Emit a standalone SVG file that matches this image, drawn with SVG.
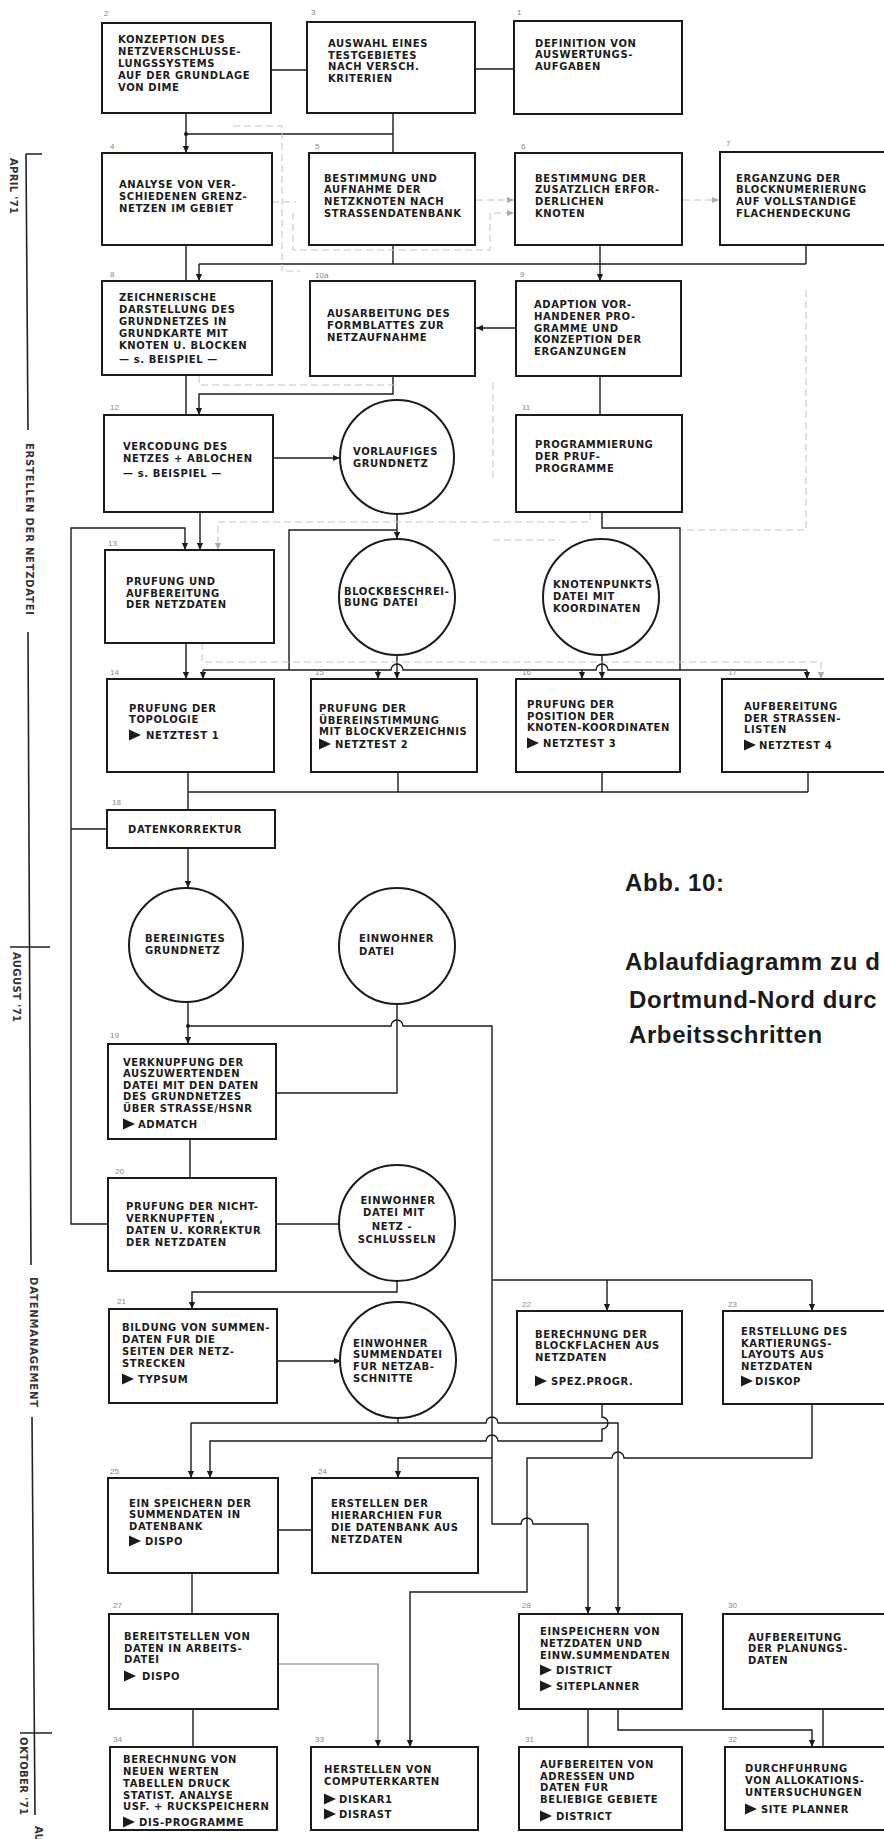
<svg xmlns="http://www.w3.org/2000/svg" width="884" height="1839" viewBox="0 0 884 1839">
<defs>
<style>
.box{fill:#fff;stroke:#1b1b1b;stroke-width:2}
.circ{fill:#fff;stroke:#1b1b1b;stroke-width:2}
.t{font-family:"DejaVu Sans","Liberation Sans",sans-serif;font-weight:bold;font-size:10px;letter-spacing:0.6px;fill:#1b1b1b}
.num{font-family:"Liberation Sans",sans-serif;font-size:8px;fill:#888}
.side{font-family:"DejaVu Sans","Liberation Sans",sans-serif;font-weight:bold;font-size:10px;fill:#333}
.title{font-family:"Liberation Sans",sans-serif;font-weight:bold;font-size:24px;letter-spacing:0.6px;fill:#1b1b1b}
.c{fill:none;stroke:#1b1b1b;stroke-width:1.4}
.ca{fill:none;stroke:#1b1b1b;stroke-width:1.4;marker-end:url(#arr)}
.g{fill:none;stroke:#777;stroke-width:1.2;marker-end:url(#arr)}
.f{fill:none;stroke:#c4c4c4;stroke-width:1;stroke-dasharray:7 4}
.fa{fill:none;stroke:#c4c4c4;stroke-width:1;stroke-dasharray:7 4;marker-end:url(#arrg)}
.tl{fill:none;stroke:#222;stroke-width:1.6}
.dot{fill:#1b1b1b}
</style>
<marker id="arr" viewBox="0 0 8 8" refX="8" refY="4" markerWidth="7" markerHeight="7" markerUnits="userSpaceOnUse" orient="auto"><path d="M0,0.5 L8,4 L0,7.5 z" fill="#1b1b1b"/></marker>
<marker id="arrg" viewBox="0 0 8 8" refX="8" refY="4" markerWidth="7" markerHeight="7" markerUnits="userSpaceOnUse" orient="auto"><path d="M0,0.5 L8,4 L0,7.5 z" fill="#aaa"/></marker>
<path id="tri" d="M0,-5.5 L12,0 L0,5.5 z" fill="#1b1b1b"/>
</defs>
<rect width="884" height="1839" fill="#fff"/>

<g id="timeline">
<path class="tl" d="M26,154 L28,430 M26,154 H42 M28,632 L31,1265 M10,947 H50 M32,1417 L35,1815 M20,1733 H52"/>
<text class="side" transform="translate(10,158) rotate(90)" textLength="56" lengthAdjust="spacing">APRIL '71</text>
<text class="side" transform="translate(26,443) rotate(90)" textLength="172" lengthAdjust="spacing">ERSTELLEN DER NETZDATEI</text>
<text class="side" transform="translate(13,952) rotate(90)" textLength="70" lengthAdjust="spacing">AUGUST '71</text>
<text class="side" transform="translate(30,1277) rotate(90)" textLength="130" lengthAdjust="spacing">DATENMANAGEMENT</text>
<text class="side" transform="translate(20,1737) rotate(90)" textLength="78" lengthAdjust="spacing">OKTOBER '71</text>
<text class="side" transform="translate(35,1826) rotate(90)">AU</text>
</g>

<g id="title">
<text class="title" x="625" y="891">Abb. 10:</text>
<text class="title" x="625" y="970">Ablaufdiagramm zu d</text>
<text class="title" x="629" y="1008">Dortmund-Nord durc</text>
<text class="title" x="629" y="1043">Arbeitsschritten</text>
</g>

<g id="connectors">
<path class="c" d="M271,70 H307"/>
<path class="c" d="M475,69 H514"/>
<path class="ca" d="M186,113 V153"/>
<circle class="dot" cx="186" cy="134" r="2"/>
<path class="c" d="M186,134 H393"/>
<path class="c" d="M393,113 V153"/>
<path class="c" d="M186,245 V281"/>
<path class="c" d="M199,264 H806"/>
<path class="ca" d="M199,264 V281"/>
<path class="c" d="M393,245 V264"/>
<path class="c" d="M600,245 V264"/>
<path class="ca" d="M600,264 V281"/>
<path class="c" d="M806,245 V264"/>
<path class="ca" d="M516,328 H476"/>
<path class="c" d="M600,376 V415"/>
<path class="c" d="M186,375 V415"/>
<path class="ca" d="M393,376 V394 H199 V415"/>
<path class="ca" d="M273,458 H340"/>
<path class="ca" d="M200,512 V550"/>
<path class="ca" d="M108,1224 H71 V528 H185 V550"/>
<path class="c" d="M107,829 H71"/>
<path class="ca" d="M397,514 V539"/>
<path class="c" d="M397,530 H289 V670"/>
<path class="c" d="M602,512 V528 H680 V670"/>
<path class="c" d="M203,670 H391 a6,6 0 0 1 12,0 H596 a6,6 0 0 1 12,0 H807"/>
<path class="ca" d="M203,670 V679"/>
<path class="ca" d="M378,670 V679"/>
<path class="ca" d="M582,670 V679"/>
<path class="ca" d="M807,670 V679"/>
<path class="ca" d="M397,655 V679"/>
<path class="ca" d="M602,655 V679"/>
<path class="ca" d="M186,643 V679"/>
<path class="c" d="M188,772 V810"/>
<path class="c" d="M188,792 H808"/>
<path class="c" d="M398,772 V792"/>
<path class="c" d="M602,772 V792"/>
<path class="c" d="M808,772 V792"/>
<path class="ca" d="M188,848 V888"/>
<path class="ca" d="M188,1002 V1044"/>
<circle class="dot" cx="188" cy="1026" r="2"/>
<path class="ca" d="M188,1026 H391 a6,6 0 0 1 12,0 H492 V1524 H521 a6,6 0 0 1 12,0 H588 V1614"/>
<path class="c" d="M492,1280 H812"/>
<path class="ca" d="M812,1280 V1311"/>
<path class="ca" d="M607,1280 V1311"/>
<path class="ca" d="M492,1458 H398 V1478"/>
<path class="c" d="M397,1004 V1093 H276"/>
<path class="c" d="M190,1139 V1178"/>
<path class="c" d="M276,1224 H339"/>
<path class="ca" d="M397,1281 V1292 H192 V1309"/>
<path class="ca" d="M277,1361 H341"/>
<path class="c" d="M398,1418 V1423"/>
<path class="ca" d="M191,1423 H486 a6,6 0 0 1 12,0 H618 V1614"/>
<path class="ca" d="M191,1423 V1478"/>
<path class="ca" d="M602,1404 V1417 a6,6 0 0 1 0,12 V1441 H498 a6,6 0 0 0 -12,0 H210 V1478"/>
<path class="ca" d="M812,1404 V1458 H624 a6,6 0 0 0 -12,0 H527 V1592 H410 V1747"/>
<path class="c" d="M192,1573 V1614"/>
<path class="c" d="M278,1530 H312"/>
<path class="g" d="M278,1664 H378 V1747"/>
<path class="c" d="M193,1709 V1747"/>
<path class="c" d="M588,1709 V1747"/>
<path class="ca" d="M618,1709 V1730 H812 V1747"/>
<path class="c" d="M823,1709 V1747"/>
<path class="f" d="M233,126 H282 V271 H300"/>
<path class="f" d="M272,202 H296"/>
<path class="fa" d="M293,213 V250 H490 V213 H514"/>
<path class="fa" d="M476,200 H514"/>
<path class="fa" d="M683,200 H719"/>
<path class="f" d="M199,376 V385 H395"/>
<path class="f" d="M806,290 V530 H681"/>
<path class="fa" d="M590,513 V522 H218 V550"/>
<path class="f" d="M493,383 V482"/>
<path class="f" d="M493,540 H560"/>
<path class="fa" d="M202,643 V662 H821 V679"/>
</g>

<g id="numbers" class="num">
<text x="104" y="16">2</text><text x="311" y="15">3</text><text x="517" y="15">1</text>
<text x="110" y="149">4</text><text x="315" y="149">5</text><text x="521" y="149">6</text><text x="726" y="146">7</text>
<text x="110" y="277">8</text><text x="315" y="278">10a</text><text x="520" y="277">9</text>
<text x="110" y="410">12</text><text x="522" y="410">11</text><text x="108" y="546">13</text>
<text x="110" y="675">14</text><text x="315" y="675">15</text><text x="522" y="675">16</text><text x="728" y="675">17</text>
<text x="112" y="805">18</text><text x="110" y="1038">19</text><text x="115" y="1174">20</text><text x="117" y="1304">21</text>
<text x="522" y="1307">22</text><text x="728" y="1307">23</text><text x="110" y="1474">25</text><text x="318" y="1474">24</text>
<text x="113" y="1608">27</text><text x="522" y="1608">28</text><text x="728" y="1608">30</text>
<text x="113" y="1742">34</text><text x="315" y="1742">33</text><text x="525" y="1742">31</text><text x="728" y="1742">32</text>
</g>

<g id="n2"><rect class="box" x="102" y="23" width="169" height="90"/>
<text class="t"><tspan x="118" y="43">KONZEPTION DES</tspan><tspan x="118" y="55">NETZVERSCHLUSSE-</tspan><tspan x="118" y="67">LUNGSSYSTEMS</tspan><tspan x="118" y="79">AUF DER GRUNDLAGE</tspan><tspan x="118" y="91">VON DIME</tspan></text></g>
<g id="n3"><rect class="box" x="307" y="22" width="168" height="91"/>
<text class="t"><tspan x="328" y="47">AUSWAHL EINES</tspan><tspan x="328" y="59">TESTGEBIETES</tspan><tspan x="328" y="70">NACH VERSCH.</tspan><tspan x="328" y="82">KRITERIEN</tspan></text></g>
<g id="n1"><rect class="box" x="514" y="21" width="168" height="93"/>
<text class="t"><tspan x="535" y="47">DEFINITION VON</tspan><tspan x="535" y="58">AUSWERTUNGS-</tspan><tspan x="535" y="70">AUFGABEN</tspan></text></g>

<g id="n4"><rect class="box" x="102" y="153" width="170" height="92"/>
<text class="t"><tspan x="119" y="188">ANALYSE VON VER-</tspan><tspan x="119" y="200">SCHIEDENEN GRENZ-</tspan><tspan x="119" y="212">NETZEN IM GEBIET</tspan></text></g>
<g id="n5"><rect class="box" x="309" y="153" width="166" height="92"/>
<text class="t"><tspan x="324" y="182">BESTIMMUNG UND</tspan><tspan x="324" y="193">AUFNAHME DER</tspan><tspan x="324" y="205">NETZKNOTEN NACH</tspan><tspan x="324" y="217">STRASSENDATENBANK</tspan></text></g>
<g id="n6"><rect class="box" x="515" y="153" width="167" height="92"/>
<text class="t"><tspan x="535" y="182">BESTIMMUNG DER</tspan><tspan x="535" y="193">ZUSATZLICH ERFOR-</tspan><tspan x="535" y="205">DERLICHEN</tspan><tspan x="535" y="217">KNOTEN</tspan></text></g>
<g id="n7"><rect class="box" x="720" y="152" width="180" height="93"/>
<text class="t"><tspan x="736" y="182">ERGANZUNG DER</tspan><tspan x="736" y="193">BLOCKNUMERIERUNG</tspan><tspan x="736" y="205">AUF VOLLSTANDIGE</tspan><tspan x="736" y="217">FLACHENDECKUNG</tspan></text></g>

<g id="n8"><rect class="box" x="102" y="281" width="170" height="94"/>
<text class="t"><tspan x="119" y="301">ZEICHNERISCHE</tspan><tspan x="119" y="313">DARSTELLUNG DES</tspan><tspan x="119" y="325">GRUNDNETZES IN</tspan><tspan x="119" y="337">GRUNDKARTE MIT</tspan><tspan x="119" y="349">KNOTEN U. BLOCKEN</tspan><tspan x="119" y="363">— s. BEISPIEL —</tspan></text></g>
<g id="n10"><rect class="box" x="310" y="281" width="165" height="95"/>
<text class="t"><tspan x="327" y="317">AUSARBEITUNG DES</tspan><tspan x="327" y="329">FORMBLATTES ZUR</tspan><tspan x="327" y="341">NETZAUFNAHME</tspan></text></g>
<g id="n9"><rect class="box" x="516" y="281" width="165" height="95"/>
<text class="t"><tspan x="534" y="308">ADAPTION VOR-</tspan><tspan x="534" y="320">HANDENER PRO-</tspan><tspan x="534" y="332">GRAMME UND</tspan><tspan x="534" y="343">KONZEPTION DER</tspan><tspan x="534" y="355">ERGANZUNGEN</tspan></text></g>

<g id="n12"><rect class="box" x="104" y="415" width="169" height="97"/>
<text class="t"><tspan x="123" y="450">VERCODUNG DES</tspan><tspan x="123" y="462">NETZES + ABLOCHEN</tspan><tspan x="123" y="477">— s. BEISPIEL —</tspan></text></g>
<g id="c_vorl"><circle class="circ" cx="397" cy="457" r="57"/>
<text class="t"><tspan x="353" y="455">VORLAUFIGES</tspan><tspan x="353" y="467">GRUNDNETZ</tspan></text></g>
<g id="n11"><rect class="box" x="516" y="415" width="166" height="97"/>
<text class="t"><tspan x="535" y="448">PROGRAMMIERUNG</tspan><tspan x="535" y="460">DER PRUF-</tspan><tspan x="535" y="472">PROGRAMME</tspan></text></g>

<g id="n13"><rect class="box" x="105" y="550" width="169" height="93"/>
<text class="t"><tspan x="126" y="585">PRUFUNG UND</tspan><tspan x="126" y="597">AUFBEREITUNG</tspan><tspan x="126" y="608">DER NETZDATEN</tspan></text></g>
<g id="c_block"><circle class="circ" cx="397" cy="597" r="58"/>
<text class="t"><tspan x="344" y="595">BLOCKBESCHREI-</tspan><tspan x="344" y="606">BUNG DATEI</tspan></text></g>
<g id="c_knot"><circle class="circ" cx="601" cy="597" r="58"/>
<text class="t"><tspan x="553" y="588">KNOTENPUNKTS</tspan><tspan x="553" y="600">DATEI MIT</tspan><tspan x="553" y="612">KOORDINATEN</tspan></text></g>

<g id="n14"><rect class="box" x="107" y="679" width="167" height="93"/>
<text class="t"><tspan x="129" y="712">PRUFUNG DER</tspan><tspan x="129" y="723">TOPOLOGIE</tspan><tspan x="146" y="739">NETZTEST 1</tspan></text>
<use href="#tri" x="129" y="735"/></g>
<g id="n15"><rect class="box" x="311" y="679" width="166" height="93"/>
<text class="t"><tspan x="319" y="712">PRUFUNG DER</tspan><tspan x="319" y="724">ÜBEREINSTIMMUNG</tspan><tspan x="319" y="735">MIT BLOCKVERZEICHNIS</tspan><tspan x="335" y="748">NETZTEST 2</tspan></text>
<use href="#tri" x="319" y="744"/></g>
<g id="n16"><rect class="box" x="516" y="679" width="164" height="93"/>
<text class="t"><tspan x="527" y="708">PRUFUNG DER</tspan><tspan x="527" y="720">POSITION DER</tspan><tspan x="527" y="731">KNOTEN-KOORDINATEN</tspan><tspan x="543" y="747">NETZTEST 3</tspan></text>
<use href="#tri" x="527" y="743"/></g>
<g id="n17"><rect class="box" x="722" y="679" width="178" height="93"/>
<text class="t"><tspan x="744" y="710">AUFBEREITUNG</tspan><tspan x="744" y="722">DER STRASSEN-</tspan><tspan x="744" y="733">LISTEN</tspan><tspan x="759" y="749">NETZTEST 4</tspan></text>
<use href="#tri" x="744" y="745"/></g>

<g id="n18"><rect class="box" x="107" y="810" width="168" height="38"/>
<text class="t"><tspan x="128" y="833">DATENKORREKTUR</tspan></text></g>

<g id="c_ber"><circle class="circ" cx="186" cy="945" r="57"/>
<text class="t"><tspan x="145" y="942">BEREINIGTES</tspan><tspan x="145" y="954">GRUNDNETZ</tspan></text></g>
<g id="c_einw"><circle class="circ" cx="397" cy="946" r="58"/>
<text class="t"><tspan x="359" y="942">EINWOHNER</tspan><tspan x="359" y="955">DATEI</tspan></text></g>

<g id="n19"><rect class="box" x="108" y="1044" width="168" height="95"/>
<text class="t"><tspan x="123" y="1066">VERKNUPFUNG DER</tspan><tspan x="123" y="1077">AUSZUWERTENDEN</tspan><tspan x="123" y="1089">DATEI MIT DEN DATEN</tspan><tspan x="123" y="1100">DES GRUNDNETZES</tspan><tspan x="123" y="1112">ÜBER STRASSE/HSNR</tspan><tspan x="138" y="1128">ADMATCH</tspan></text>
<use href="#tri" x="123" y="1124"/></g>

<g id="n20"><rect class="box" x="108" y="1178" width="168" height="93"/>
<text class="t"><tspan x="126" y="1210">PRUFUNG DER NICHT-</tspan><tspan x="126" y="1222">VERKNUPFTEN  ,</tspan><tspan x="126" y="1234">DATEN U. KORREKTUR</tspan><tspan x="126" y="1246">DER NETZDATEN</tspan></text></g>
<g id="c_netz"><circle class="circ" cx="397" cy="1223" r="58"/>
<text class="t" text-anchor="middle"><tspan x="398" y="1204">EINWOHNER</tspan><tspan x="394" y="1216">DATEI MIT</tspan><tspan x="392" y="1230">NETZ -</tspan><tspan x="397" y="1243">SCHLUSSELN</tspan></text></g>

<g id="n21"><rect class="box" x="109" y="1309" width="168" height="94"/>
<text class="t"><tspan x="122" y="1331">BILDUNG VON SUMMEN-</tspan><tspan x="122" y="1343">DATEN FUR DIE</tspan><tspan x="122" y="1355">SEITEN DER NETZ-</tspan><tspan x="122" y="1367">STRECKEN</tspan><tspan x="138" y="1383">TYPSUM</tspan></text>
<use href="#tri" x="122" y="1379"/></g>
<g id="c_summ"><circle class="circ" cx="398" cy="1360" r="58"/>
<text class="t"><tspan x="353" y="1347">EINWOHNER</tspan><tspan x="353" y="1358">SUMMENDATEI</tspan><tspan x="353" y="1370">FUR NETZAB-</tspan><tspan x="353" y="1382">SCHNITTE</tspan></text></g>

<g id="n22"><rect class="box" x="517" y="1311" width="165" height="93"/>
<text class="t"><tspan x="535" y="1338">BERECHNUNG DER</tspan><tspan x="535" y="1349">BLOCKFLACHEN AUS</tspan><tspan x="535" y="1361">NETZDATEN</tspan><tspan x="551" y="1385">SPEZ.PROGR.</tspan></text>
<use href="#tri" x="535" y="1381"/></g>
<g id="n23"><rect class="box" x="723" y="1311" width="177" height="93"/>
<text class="t"><tspan x="741" y="1335">ERSTELLUNG DES</tspan><tspan x="741" y="1347">KARTIERUNGS-</tspan><tspan x="741" y="1358">LAYOUTS AUS</tspan><tspan x="741" y="1370">NETZDATEN</tspan><tspan x="755" y="1385">DISKOP</tspan></text>
<use href="#tri" x="741" y="1381"/></g>

<g id="n25"><rect class="box" x="108" y="1478" width="170" height="95"/>
<text class="t"><tspan x="129" y="1507">EIN SPEICHERN DER</tspan><tspan x="129" y="1518">SUMMENDATEN IN</tspan><tspan x="129" y="1530">DATENBANK</tspan><tspan x="145" y="1545">DISPO</tspan></text>
<use href="#tri" x="129" y="1541"/></g>
<g id="n24"><rect class="box" x="312" y="1478" width="166" height="95"/>
<text class="t"><tspan x="331" y="1507">ERSTELLEN DER</tspan><tspan x="331" y="1519">HIERARCHIEN FUR</tspan><tspan x="331" y="1531">DIE DATENBANK AUS</tspan><tspan x="331" y="1543">NETZDATEN</tspan></text></g>

<g id="n27"><rect class="box" x="109" y="1614" width="169" height="95"/>
<text class="t"><tspan x="124" y="1640">BEREITSTELLEN VON</tspan><tspan x="124" y="1652">DATEN IN ARBEITS-</tspan><tspan x="124" y="1663">DATEI</tspan><tspan x="142" y="1680">DISPO</tspan></text>
<use href="#tri" x="124" y="1676"/></g>
<g id="n28"><rect class="box" x="519" y="1614" width="163" height="95"/>
<text class="t"><tspan x="540" y="1635">EINSPEICHERN VON</tspan><tspan x="540" y="1647">NETZDATEN UND</tspan><tspan x="540" y="1659">EINW.SUMMENDATEN</tspan><tspan x="556" y="1674">DISTRICT</tspan><tspan x="556" y="1690">SITEPLANNER</tspan></text>
<use href="#tri" x="540" y="1670"/><use href="#tri" x="540" y="1686"/></g>
<g id="n30"><rect class="box" x="723" y="1614" width="177" height="95"/>
<text class="t"><tspan x="748" y="1641">AUFBEREITUNG</tspan><tspan x="748" y="1652">DER PLANUNGS-</tspan><tspan x="748" y="1664">DATEN</tspan></text></g>

<g id="n34"><rect class="box" x="110" y="1747" width="167" height="83"/>
<text class="t"><tspan x="123" y="1763">BERECHNUNG VON</tspan><tspan x="123" y="1775">NEUEN WERTEN</tspan><tspan x="123" y="1787">TABELLEN DRUCK</tspan><tspan x="123" y="1799">STATIST. ANALYSE</tspan><tspan x="123" y="1810">USF. + RUCKSPEICHERN</tspan><tspan x="139" y="1826">DIS-PROGRAMME</tspan></text>
<use href="#tri" x="123" y="1822"/></g>
<g id="n33"><rect class="box" x="311" y="1747" width="167" height="83"/>
<text class="t"><tspan x="324" y="1773">HERSTELLEN VON</tspan><tspan x="324" y="1785">COMPUTERKARTEN</tspan><tspan x="339" y="1803">DISKAR1</tspan><tspan x="339" y="1818">DISRAST</tspan></text>
<use href="#tri" x="324" y="1799"/><use href="#tri" x="324" y="1814"/></g>
<g id="n31"><rect class="box" x="519" y="1747" width="163" height="83"/>
<text class="t"><tspan x="540" y="1768">AUFBEREITEN VON</tspan><tspan x="540" y="1780">ADRESSEN UND</tspan><tspan x="540" y="1791">DATEN FUR</tspan><tspan x="540" y="1803">BELIEBIGE GEBIETE</tspan><tspan x="556" y="1820">DISTRICT</tspan></text>
<use href="#tri" x="540" y="1816"/></g>
<g id="n32"><rect class="box" x="725" y="1747" width="175" height="83"/>
<text class="t"><tspan x="745" y="1772">DURCHFUHRUNG</tspan><tspan x="745" y="1784">VON ALLOKATIONS-</tspan><tspan x="745" y="1796">UNTERSUCHUNGEN</tspan><tspan x="761" y="1813">SITE PLANNER</tspan></text>
<use href="#tri" x="745" y="1809"/></g>
</svg>
